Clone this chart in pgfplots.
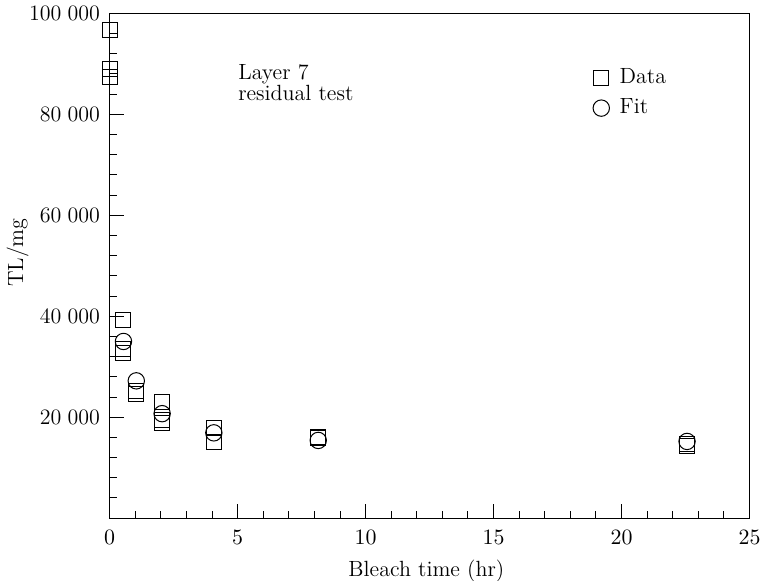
\documentclass[border=0pt]{standalone}
\usepackage{pgfplots}
\pgfplotsset{compat=1.18}
\begin{document}
\fontsize{11}{12}\selectfont
\begin{tikzpicture}
\begin{axis}[
  at={(0,0)}, anchor=south west,
  scale only axis, width=320pt, height=252.5pt,
  xmin=0, xmax=25, ymin=0, ymax=100000,
  xtick={0,5,...,25}, minor x tick num=4,
  ytick={0,20000,40000,60000,80000,100000}, minor y tick num=4,
  yticklabels={,20\;000,40\;000,60\;000,80\;000,100\;000},
  scaled y ticks=false,
  xtick pos=left, ytick pos=left,
  tick align=inside,
  major tick length=7pt, minor tick length=3.5pt,
  every tick/.style={black, line width=0.5pt},
  axis line style={line width=0.5pt},
  x tick label style={yshift=-2pt},
  y tick label style={xshift=-1pt},
  xlabel={Bleach time (hr)}, ylabel={TL/mg},
  xlabel style={at={(axis description cs:0.495,-0.104)}, anchor=center},
  ylabel style={at={(axis description cs:-0.144,0.526)}, anchor=center},
  legend style={draw=none, fill=none, at={(axis description cs:0.745,0.907)}, anchor=north west, row sep=2pt},
  legend cell align=left,
  legend image code/.code={\draw[#1] plot coordinates {(0.15cm,0cm)}; \path[draw=none,fill=none] (0cm,0cm) (11.5pt,0cm);},
]
\addplot[only marks, mark=square, mark size=3.75pt, line width=0.5pt, black] coordinates {
  (0,96600) (0,88900) (0,87400)
  (0.54,39200) (0.54,33600) (0.54,32800)
  (1.04,25200) (1.04,24500)
  (2.05,23100) (2.05,19400) (2.05,18900)
  (4.07,17800) (4.07,15150)
  (8.15,16100) (8.15,15800)
  (22.56,14200) (22.56,14600)
};
\addlegendentry{Data}
\addplot[only marks, mark=o, mark size=4.1pt, line width=0.5pt, black] coordinates {
  (0.54,35000) (1.04,27200) (2.05,20700) (4.07,16900) (8.15,15400) (22.56,15200)
};
\addlegendentry{Fit}
\node[anchor=north west, inner sep=0pt, align=left, font=\fontsize{11}{10.5}\selectfont] at (axis cs:5.01,90000) {Layer 7\\residual test};
\end{axis}
\pgfresetboundingbox
\useasboundingbox (-54.85pt,-31.25pt) rectangle (325.75pt,259.15pt);
\end{tikzpicture}
\end{document}
